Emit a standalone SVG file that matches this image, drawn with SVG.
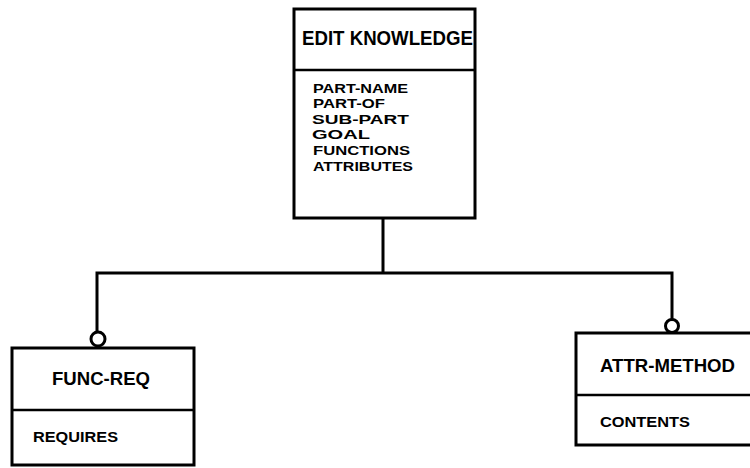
<svg xmlns="http://www.w3.org/2000/svg" width="750" height="468" viewBox="0 0 750 468">
  <style>
    .box { fill: #fff; stroke: #000; stroke-width: 3; }
    .div { stroke: #000; stroke-width: 2.5; fill: none; }
    .wire { stroke: #000; stroke-width: 3; fill: none; }
    .ring { fill: #fff; stroke: #000; stroke-width: 3; }
    text { font-family: "Liberation Sans", Arial, sans-serif; font-weight: bold; fill: #000; }
    .title { font-size: 20px; }
    .name { font-size: 18px; }
    .item { font-size: 15px; }
    .list { font-size: 13.5px; }
  </style>
  <rect width="750" height="468" fill="#fff"/>

  <!-- connectors: trunk, bus and two drops ending in rings -->
  <g id="connectors">
    <path class="wire" d="M383 219 V273 M97 273 H672 M97 271.5 V332 M672 271.5 V319"/>
    <circle class="ring" cx="98" cy="339" r="7"/>
    <circle class="ring" cx="672" cy="326" r="6.5"/>
  </g>

  <g id="edit-knowledge">
    <rect class="box" x="294" y="9" width="181" height="209"/>
    <line class="div" x1="294" y1="70" x2="475" y2="70"/>
    <text class="title" x="302" y="45" textLength="171" lengthAdjust="spacingAndGlyphs">EDIT KNOWLEDGE</text>
    <text class="list" x="313" y="93" textLength="95" lengthAdjust="spacingAndGlyphs">PART-NAME</text>
    <text class="list" x="313" y="108" textLength="72" lengthAdjust="spacingAndGlyphs">PART-OF</text>
    <text class="list" x="312" y="124" textLength="97" lengthAdjust="spacingAndGlyphs">SUB-PART</text>
    <text class="list" x="312" y="139" textLength="58" lengthAdjust="spacingAndGlyphs">GOAL</text>
    <text class="list" x="313" y="155" textLength="97" lengthAdjust="spacingAndGlyphs">FUNCTIONS</text>
    <text class="list" x="313" y="171" textLength="100" lengthAdjust="spacingAndGlyphs">ATTRIBUTES</text>
  </g>

  <g id="func-req">
    <rect class="box" x="12" y="348" width="182" height="117"/>
    <line class="div" x1="12" y1="410" x2="194" y2="410"/>
    <text class="name" x="52" y="385" textLength="98" lengthAdjust="spacingAndGlyphs">FUNC-REQ</text>
    <text class="item" x="33" y="442" textLength="85" lengthAdjust="spacingAndGlyphs">REQUIRES</text>
  </g>

  <g id="attr-method">
    <rect class="box" x="576" y="333" width="180" height="112"/>
    <line class="div" x1="576" y1="395" x2="752" y2="395"/>
    <text class="name" x="600" y="372" textLength="135" lengthAdjust="spacingAndGlyphs">ATTR-METHOD</text>
    <text class="item" x="600" y="427" textLength="90" lengthAdjust="spacingAndGlyphs">CONTENTS</text>
  </g>
</svg>
